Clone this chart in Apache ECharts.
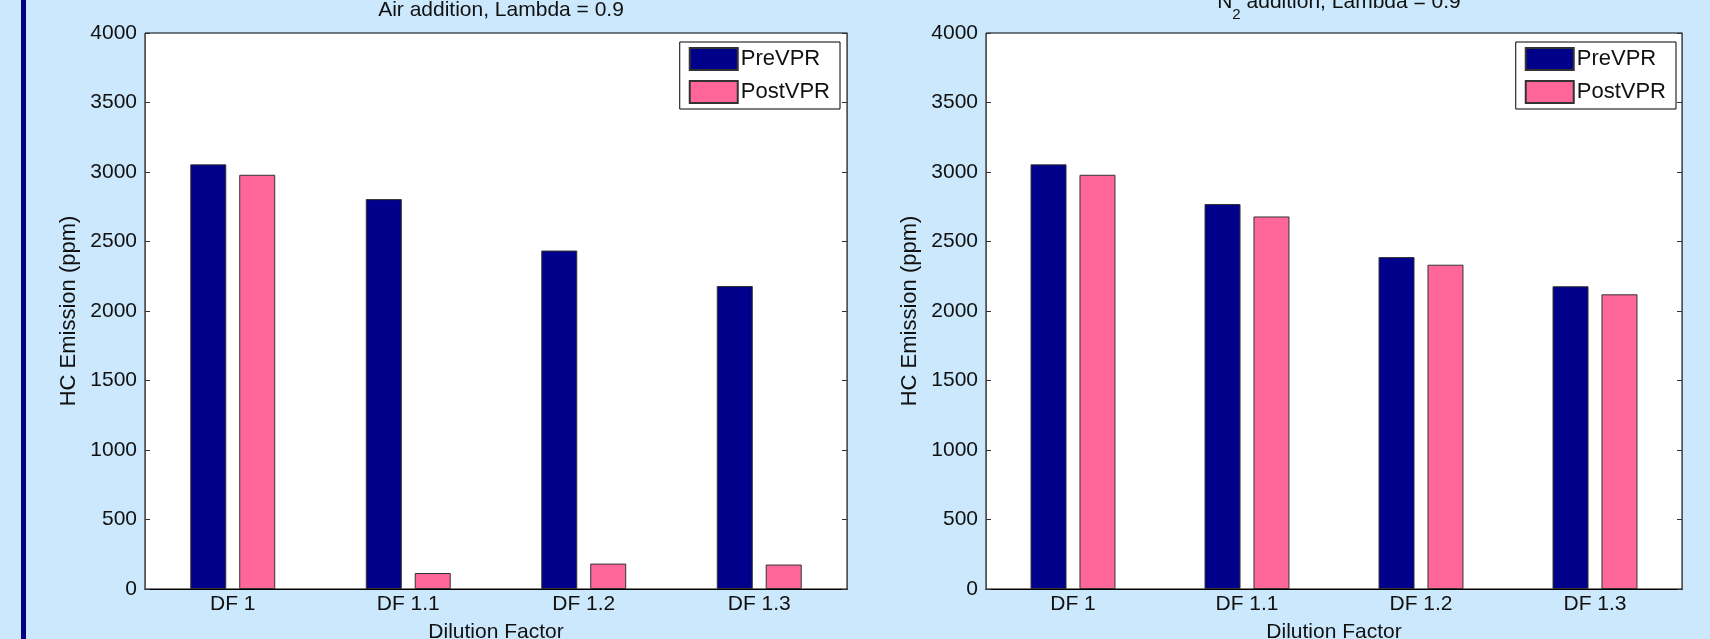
<!DOCTYPE html>
<html>
<head>
<meta charset="utf-8">
<style>
  html, body { margin: 0; padding: 0; background: #cbe8fd; }
  #chart { width: 1710px; height: 639px; }
</style>
<script src="https://cdn.jsdelivr.net/npm/echarts@6/dist/echarts.min.js"></script>
</head>
<body>
<div id="chart"></div>
<script>
const categories = ["DF 1", "DF 1.1", "DF 1.2", "DF 1.3"];
const seriesNames = ["PreVPR", "PostVPR"];
// Air addition, Lambda = 0.9
const airPre = [3055, 2805, 2435, 2180];
const airPost = [2980, 115, 183, 176];
// N2 addition, Lambda = 0.9
const n2Pre = [3055, 2770, 2388, 2178];
const n2Post = [2980, 2680, 2333, 2120];

(() => {
  let myChart = echarts.init(document.querySelector("#chart"));
  const font = "Liberation Sans";
  const colors = ["#00008b", "#ff6699"];
  const grids = [
    { left: 145, right: 863, top: 33, bottom: 50 },
    { left: 986, right: 28, top: 33, bottom: 50 },
  ];

  const xAxes = [];
  const yAxes = [];
  grids.forEach((g, i) => {
    // bottom axis with labels
    xAxes.push({
      type: "category",
      gridIndex: i,
      data: categories,
      position: "bottom",
      axisLine: { lineStyle: { color: "#000", width: 1 } },
      axisTick: { inside: true, alignWithLabel: true, length: 5, lineStyle: { color: "#333" } },
      axisLabel: { fontFamily: font, fontSize: 21, color: "#111", margin: 5 },
      name: "Dilution Factor",
      nameLocation: "middle",
      nameGap: 33,
      nameTextStyle: { fontFamily: font, fontSize: 21, color: "#111" },
    });
    // mirrored top axis (box)
    xAxes.push({
      type: "category",
      gridIndex: i,
      data: categories,
      position: "top",
      axisLine: { lineStyle: { color: "#000", width: 1 } },
      axisTick: { inside: true, alignWithLabel: true, length: 5, lineStyle: { color: "#333" } },
      axisLabel: { show: false },
    });
    yAxes.push({
      type: "value",
      gridIndex: i,
      min: 0,
      max: 4000,
      interval: 500,
      position: "left",
      axisLine: { show: true, lineStyle: { color: "#555" } },
      axisTick: { show: true, inside: true, length: 5, lineStyle: { color: "#333" } },
      splitLine: { show: false },
      axisLabel: {
        fontFamily: font,
        fontSize: 21,
        color: "#111",
        margin: 8,
        formatter: (v) => String(v),
      },
      name: "HC Emission (ppm)",
      nameLocation: "middle",
      nameGap: 65,
      nameRotate: 90,
      nameTextStyle: { fontFamily: font, fontSize: 22, color: "#111" },
    });
    yAxes.push({
      type: "value",
      gridIndex: i,
      min: 0,
      max: 4000,
      interval: 500,
      position: "right",
      axisLine: { show: true, lineStyle: { color: "#555" } },
      axisTick: { show: true, inside: true, length: 5, lineStyle: { color: "#333" } },
      splitLine: { show: false },
      axisLabel: { show: false },
    });
  });

  const makeBars = (values, idx, gi) => ({
    name: seriesNames[idx],
    type: "bar",
    xAxisIndex: gi * 2,
    yAxisIndex: gi * 2,
    data: values,
    barWidth: 36,
    barGap: "36%",
    itemStyle: { color: colors[idx], borderColor: "#333", borderWidth: 1 },
  });

  const legendBase = {
    orient: "vertical",
    top: 42,
    icon: "rect",
    itemWidth: 48,
    itemHeight: 22,
    itemGap: 9,
    padding: [5, 10, 5, 9],
    backgroundColor: "#fff",
    borderColor: "#000",
    borderWidth: 1,
    borderRadius: 0,
    selectedMode: false,
    data: seriesNames,
    textStyle: { fontFamily: font, fontSize: 22, color: "#111", padding: [0, 0, 0, -2] },
  };

  let option = {
    backgroundColor: "#cbe8fd",
    animation: false,
    title: [
      {
        text: "Air addition, Lambda = 0.9",
        left: 496,
        top: -5,
        textAlign: "center",
        textStyle: { fontFamily: font, fontSize: 21, fontWeight: "normal", color: "#111" },
      },
      {
        text: "{a|N}{s|2}{a| addition, Lambda = 0.9}",
        left: 1334,
        top: -13,
        textAlign: "center",
        textStyle: {
          fontWeight: "normal",
          rich: {
            a: { fontFamily: font, fontSize: 21, lineHeight: 21, fontWeight: "normal", color: "#111", verticalAlign: "top" },
            s: { fontFamily: font, fontSize: 15, lineHeight: 30, fontWeight: "normal", color: "#111", verticalAlign: "bottom" },
          },
        },
      },
    ],
    graphic: [
      {
        type: "rect",
        shape: { x: 21, y: 0, width: 5, height: 639 },
        style: { fill: "#000080" },
      },
    ],
    legend: [
      Object.assign({}, legendBase, { right: 870 }),
      Object.assign({}, legendBase, { right: 34 }),
    ],
    grid: grids.map((g) =>
      Object.assign(
        { show: true, backgroundColor: "#fff", borderColor: "#000", borderWidth: 1, outerBoundsMode: "none", containLabel: false },
        g
      )
    ),
    xAxis: xAxes,
    yAxis: yAxes,
    series: [
      makeBars(airPre, 0, 0),
      makeBars(airPost, 1, 0),
      makeBars(n2Pre, 0, 1),
      makeBars(n2Post, 1, 1),
    ],
  };
  myChart.setOption(option);
  window.addEventListener("resize", () => {
    myChart.resize();
  });
})();
</script>
</body>
</html>
